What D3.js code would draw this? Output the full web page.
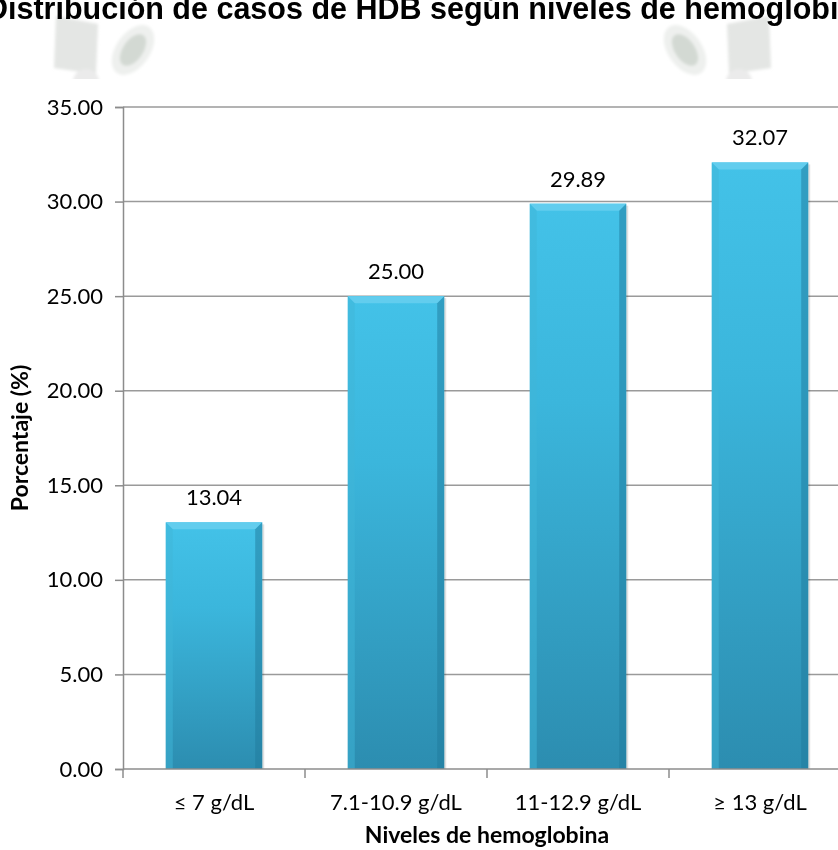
<!DOCTYPE html>
<html>
<head>
<meta charset="utf-8">
<script src="https://cdn.jsdelivr.net/npm/d3@7"></script>
<style>
  html, body { margin: 0; padding: 0; background: #fff; }
  svg { display: block; }
</style>
</head>
<body>
<div id="chart"></div>
<script>
const title = "Distribución de casos de HDB según niveles de hemoglobina";
const categories = ["≤ 7 g/dL", "7.1-10.9 g/dL", "11-12.9 g/dL", "≥ 13 g/dL"];
const values = [13.04, 25.00, 29.89, 32.07];
const yTicks = [0, 5, 10, 15, 20, 25, 30, 35];
const yTitle = "Porcentaje (%)";
const xTitle = "Niveles de hemoglobina";

const W = 838, H = 850;
const margin = { left: 123, right: -13, top: 107, bottom: 81 };
const svg = d3.select("#chart").append("svg").attr("width", W).attr("height", H);

const defs = svg.append("defs");
const g1 = defs.append("linearGradient").attr("id", "barGrad").attr("x1", 0).attr("y1", 0).attr("x2", 0).attr("y2", 1);
g1.append("stop").attr("offset", "0%").attr("stop-color", "#43c2e8");
g1.append("stop").attr("offset", "35%").attr("stop-color", "#3bb6dc");
g1.append("stop").attr("offset", "100%").attr("stop-color", "#2c8db0");
const blur = defs.append("filter").attr("id", "wmblur").attr("x", "-20%").attr("y", "-20%").attr("width", "140%").attr("height", "140%");
blur.append("feGaussianBlur").attr("stdDeviation", 1.5);

// watermark shapes
const wm = svg.append("g").attr("filter", "url(#wmblur)");
function logo(cx, mirror, off) {
  const s = mirror ? -1 : 1;
  const grp = wm.append("g").attr("transform", `translate(${cx},0) scale(${s},1)`);
  grp.append("path").attr("d", "M-22,16 L20,24 L18,74 L-24,68 Z").attr("fill", "#e4e6e4");
  grp.append("ellipse").attr("cx", off).attr("cy", 50).attr("rx", 28).attr("ry", 17)
    .attr("transform", `rotate(-55 ${off} 50)`).attr("fill", "#eef0ee");
  grp.append("ellipse").attr("cx", off).attr("cy", 50).attr("rx", 18).attr("ry", 10)
    .attr("transform", `rotate(-55 ${off} 50)`).attr("fill", "#d3d9d3");
  grp.append("circle").attr("cx", 8).attr("cy", 82).attr("r", 13).attr("fill", "#ebebeb");
}
logo(78, false, 55);
logo(747, true, 62);
// white mask below logos
svg.append("rect").attr("x", 0).attr("y", 79).attr("width", W).attr("height", 20).attr("fill", "#fff");

svg.append("text").attr("x", 430).attr("y", 19).attr("text-anchor", "middle")
  .attr("font-family", "Liberation Sans, Arial, sans-serif").attr("font-weight", "bold")
  .attr("font-size", 30.5).attr("fill", "#000").text(title);

const x = d3.scaleBand().domain(categories).range([margin.left, W - margin.right]).paddingInner(0.47).paddingOuter(0.235);
const y = d3.scaleLinear().domain([0, 35]).range([H - margin.bottom, margin.top]);

const font = "Lato, 'Open Sans', sans-serif";

// gridlines
svg.append("g").selectAll("line").data(yTicks.filter(d => d > 0)).join("line")
  .attr("x1", margin.left).attr("x2", W).attr("y1", d => y(d)).attr("y2", d => y(d))
  .attr("stroke", "#9a9a9a").attr("stroke-width", 1.5);

// y axis
const yAxis = svg.append("g").attr("transform", `translate(${margin.left},0)`)
  .call(d3.axisLeft(y).tickValues(yTicks).tickFormat(d3.format(".2f")).tickSize(8).tickPadding(12));
yAxis.select(".domain").attr("stroke", "#8c8c8c").attr("stroke-width", 1.5);
yAxis.selectAll(".tick line").attr("stroke", "#8c8c8c").attr("stroke-width", 1.5);
yAxis.selectAll("text").attr("font-family", font).attr("font-size", 22).attr("fill", "#000");

// bars
const bw = x.bandwidth();
const bev = 7;
const bars = svg.append("g").selectAll("g").data(values).join("g");
bars.append("rect").attr("x", (d, i) => x(categories[i]) + 2).attr("y", d => y(d) + 2)
  .attr("width", bw).attr("height", d => y(0) - y(d) - 2).attr("fill", "#000").attr("opacity", 0.12);
bars.append("rect").attr("x", (d, i) => x(categories[i])).attr("y", d => y(d))
  .attr("width", bw).attr("height", d => y(0) - y(d)).attr("fill", "url(#barGrad)");
// top bevel
bars.append("path").attr("d", (d, i) => {
  const x0 = x(categories[i]), y0 = y(d);
  return `M${x0},${y0} L${x0 + bw},${y0} L${x0 + bw - bev},${y0 + bev} L${x0 + bev},${y0 + bev} Z`;
}).attr("fill", "#62cdee");
// left bevel
bars.append("path").attr("d", (d, i) => {
  const x0 = x(categories[i]), y0 = y(d), yb = y(0);
  return `M${x0},${y0} L${x0 + bev},${y0 + bev} L${x0 + bev},${yb} L${x0},${yb} Z`;
}).attr("fill", "#3fb5d8").attr("opacity", 0.5);
// right bevel
bars.append("path").attr("d", (d, i) => {
  const x0 = x(categories[i]) + bw, y0 = y(d), yb = y(0);
  return `M${x0},${y0} L${x0 - bev},${y0 + bev} L${x0 - bev},${yb} L${x0},${yb} Z`;
}).attr("fill", "#1f7a9c").attr("opacity", 0.5);

// data labels
bars.append("text").attr("x", (d, i) => x(categories[i]) + bw / 2).attr("y", d => y(d) - 17)
  .attr("text-anchor", "middle").attr("font-family", font).attr("font-size", 22).attr("fill", "#000")
  .text(d => d3.format(".2f")(d));

// x axis
const xb = H - margin.bottom;
svg.append("line").attr("x1", margin.left).attr("x2", W).attr("y1", xb).attr("y2", xb)
  .attr("stroke", "#8c8c8c").attr("stroke-width", 1.5);
const step = x.step();
svg.append("g").selectAll("line").data(d3.range(categories.length + 1)).join("line")
  .attr("x1", i => margin.left + i * step).attr("x2", i => margin.left + i * step)
  .attr("y1", xb).attr("y2", xb + 9).attr("stroke", "#8c8c8c").attr("stroke-width", 1.5);
svg.append("g").selectAll("text").data(categories).join("text")
  .attr("x", d => x(d) + bw / 2).attr("y", xb + 41).attr("text-anchor", "middle")
  .attr("font-family", font).attr("font-size", 22).attr("fill", "#000").text(d => d);

svg.append("text").attr("x", margin.left + 2 * step).attr("y", 843).attr("text-anchor", "middle")
  .attr("font-family", font).attr("font-weight", "bold").attr("font-size", 23).attr("fill", "#000").text(xTitle);

svg.append("text").attr("transform", `translate(28,${(y(0) + y(35)) / 2}) rotate(-90)`)
  .attr("text-anchor", "middle").attr("font-family", font).attr("font-weight", "bold")
  .attr("font-size", 23).attr("fill", "#000").text(yTitle);
</script>
</body>
</html>
